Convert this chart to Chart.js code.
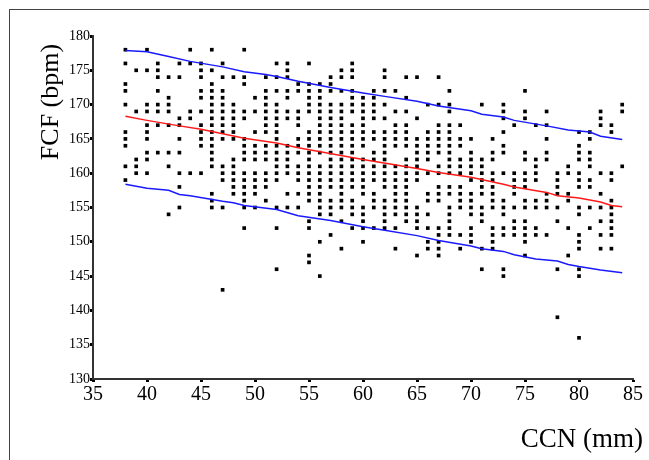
<!DOCTYPE html>
<html>
<head>
<meta charset="utf-8">
<title>FCF vs CCN</title>
<script src="https://cdn.jsdelivr.net/npm/chart.js@4.4.1/dist/chart.umd.min.js"></script>
<style>
  html, body { margin: 0; padding: 0; background: #fff; }
  #wrap { position: relative; width: 649px; height: 460px; overflow: hidden; }
  #frame {
    position: absolute; left: 9px; top: 9px; width: 700px; height: 500px;
    border-top: 1px solid #444; border-left: 1px solid #444;
  }
  #chart { position: absolute; left: 0; top: 0; }
</style>
</head>
<body>
<div id="wrap">
  <div id="frame"></div>
  <canvas id="chart" width="649" height="460"></canvas>
</div>
<script>
// --------- Data ---------
// Each entry: [CCN (mm), list of FCF (bpm) values observed at that CCN]
const colsA = [
  [38, [178, 176, 173, 172, 170, 166, 165, 164, 161, 159]],
  [39, [175, 169, 162, 161, 160]],
  [40, [178, 175, 170, 169, 167, 166, 165, 163, 162, 160]],
  [41, [176, 175, 174, 172, 170, 169, 167, 163]],
  [42, [174, 171, 170, 169, 167, 163, 161, 154]],
  [43, [176, 174, 168, 167, 165, 163, 160, 158, 155]],
  [44, [178, 176, 169, 168, 160]]
];
const colsB = [
  [45, [176, 175, 174, 172, 171, 169, 167, 166, 165, 164, 160]],
  [46, [178, 175, 173, 172, 171, 170, 169, 168, 167, 166, 165, 164, 163, 162, 161, 157, 156, 155]],
  [47, [176, 174, 172, 171, 170, 169, 168, 167, 166, 165, 161, 160, 159, 155, 143]],
  [48, [174, 170, 169, 168, 167, 166, 165, 162, 161, 160, 159, 158, 157]],
  [49, [178, 174, 173, 169, 168, 165, 164, 163, 162, 160, 159, 158, 157, 156, 155, 152]],
  [50, [171, 169, 166, 164, 163, 162, 160, 159, 158, 157, 155]],
  [51, [174, 172, 171, 170, 169, 168, 167, 166, 164, 163, 162, 160, 159, 158, 156]],
  [52, [176, 174, 172, 170, 169, 168, 167, 166, 165, 164, 163, 162, 161, 160, 159, 155, 152, 146]],
  [53, [176, 175, 174, 172, 171, 169, 168, 164, 163, 162, 161, 160, 157, 155]],
  [54, [173, 172, 169, 168, 167, 165, 164, 163, 161, 160, 159, 157, 155]]
];
const colsC = [
  [55, [176, 173, 172, 171, 170, 169, 166, 165, 164, 163, 162, 161, 160, 159, 158, 157, 156, 153, 152, 148, 147]],
  [56, [173, 172, 171, 170, 169, 168, 167, 166, 165, 164, 163, 161, 160, 159, 158, 157, 156, 155, 154, 150, 145]],
  [57, [174, 173, 172, 170, 169, 168, 167, 166, 165, 164, 163, 162, 161, 160, 159, 158, 156, 155, 154, 151]],
  [58, [175, 174, 172, 170, 169, 168, 167, 166, 165, 164, 163, 162, 161, 160, 159, 158, 157, 156, 155, 153, 149]],
  [59, [176, 175, 174, 172, 171, 170, 169, 167, 166, 165, 164, 163, 162, 161, 160, 159, 158, 156, 155, 154, 152]],
  [60, [171, 170, 169, 168, 167, 166, 165, 164, 162, 161, 160, 159, 158, 157, 155, 154, 153, 152, 150]],
  [61, [172, 171, 170, 169, 168, 166, 165, 163, 162, 161, 160, 159, 157, 156, 155, 152]],
  [62, [175, 174, 172, 170, 168, 166, 165, 164, 163, 162, 161, 160, 159, 158, 156, 155, 154, 153, 152]],
  [63, [172, 169, 167, 166, 165, 164, 161, 160, 159, 158, 157, 156, 155, 154, 152, 149]],
  [64, [174, 171, 169, 167, 166, 165, 164, 162, 161, 160, 159, 158, 157, 156, 155, 154, 153]]
];
const colsD = [
  [65, [174, 168, 165, 164, 163, 162, 161, 160, 159, 155, 154, 153, 152, 148]],
  [66, [170, 166, 165, 164, 163, 162, 160, 157, 156, 154, 152, 150, 149]],
  [67, [174, 170, 167, 166, 165, 164, 163, 161, 160, 158, 157, 156, 152, 151, 150, 149, 148]],
  [68, [172, 170, 169, 167, 166, 165, 164, 163, 162, 161, 160, 158, 157, 155, 154, 153, 152, 151]],
  [69, [167, 165, 164, 162, 161, 160, 158, 157, 156, 155, 151, 149]],
  [70, [165, 163, 162, 161, 160, 159, 157, 156, 155, 154, 152, 151, 150]],
  [71, [170, 162, 161, 160, 159, 158, 157, 155, 154, 153, 149, 146]],
  [72, [165, 163, 162, 160, 159, 158, 157, 156, 155, 152, 151, 150, 149]],
  [73, [170, 169, 168, 166, 164, 163, 160, 156, 155, 154, 152, 151, 146, 145]],
  [74, [167, 160, 159, 158, 157, 155, 153, 152, 151]]
];
const colsE = [
  [75, [172, 169, 168, 163, 162, 160, 159, 158, 156, 155, 153, 152, 151, 150, 148]],
  [76, [167, 162, 161, 160, 159, 156, 155, 152, 151]],
  [77, [169, 167, 165, 163, 162, 157, 156, 155, 151]],
  [78, [160, 159, 158, 157, 155, 153, 146, 139]],
  [79, [161, 160, 157, 156, 152, 148]],
  [80, [166, 164, 163, 162, 160, 159, 158, 155, 154, 151, 150, 149, 146, 145, 136]],
  [81, [166, 165, 163, 162, 161, 159, 158, 155, 152]],
  [82, [169, 168, 167, 160, 157, 155, 153, 151, 149]],
  [83, [167, 166, 160, 159, 156, 155, 154, 153, 152, 151, 149]],
  [84, [170, 169, 161]]
];

// Fitted curve (red) and its upper / lower bands (blue)
const fitX   = [38, 40, 43, 45, 49, 52, 54, 60, 65, 67, 70, 73, 74, 77, 78, 80, 82, 83, 84];
const fitY   = [168.3, 167.7, 166.9, 166.4, 165.1, 164.4, 163.7, 162.0, 160.7, 160.1, 159.4, 158.4, 158.0, 157.2, 156.7, 156.4, 155.8, 155.3, 155.1];
const upperX = [38, 40, 42, 44, 47, 49, 51, 52, 54, 57, 60, 62, 65, 67, 70, 71, 73, 74, 77, 79, 81, 82, 84];
const upperY = [177.9, 177.7, 177.0, 176.3, 175.5, 174.8, 174.4, 174.1, 173.4, 172.5, 171.7, 171.2, 170.5, 169.8, 169.1, 168.6, 168.2, 167.7, 166.9, 166.3, 166.0, 165.4, 164.9];
const lowerX = [38, 40, 42, 43, 44, 47, 48, 49, 52, 54, 57, 60, 62, 65, 67, 70, 71, 73, 74, 76, 78, 79, 80, 82, 84];
const lowerY = [158.4, 157.8, 157.5, 156.9, 156.7, 155.9, 155.7, 155.3, 154.7, 153.8, 153.1, 152.2, 151.7, 150.9, 150.2, 149.4, 149.0, 148.6, 148.1, 147.5, 147.2, 146.7, 146.4, 145.9, 145.5];

// Axis labels
const xTitle = "CCN (mm)";
const yTitle = "FCF (bpm)";

// --------- Helpers ---------
function toPoints(cols) {
  const pts = [];
  cols.forEach(([x, ys]) => ys.forEach((y) => pts.push({ x, y })));
  return pts;
}

function zipXY(xs, ys) {
  return xs.map((x, i) => ({ x, y: ys[i] }));
}

const scatterPoints = [colsA, colsB, colsC, colsD, colsE].flatMap(toPoints);

function lineSet(data, color) {
  return {
    data,
    showLine: true,
    borderColor: color,
    borderWidth: 1.5,
    pointRadius: 0,
    tension: 0,
    fill: false,
    order: 0
  };
}

// Axis titles drawn by hand so they sit where the reference puts them
const titlePlugin = {
  id: "axisTitles",
  afterDraw(chart) {
    const ctx = chart.ctx;
    ctx.save();
    ctx.fillStyle = "#000";
    ctx.font = '26px "Liberation Serif", "Times New Roman", serif';
    ctx.translate(51, 102);
    ctx.rotate(-Math.PI / 2);
    ctx.textAlign = "center";
    ctx.textBaseline = "middle";
    ctx.fillText(yTitle, 0, 0);
    ctx.restore();

    ctx.save();
    ctx.fillStyle = "#000";
    ctx.font = '27px "Liberation Serif", "Times New Roman", serif';
    ctx.textAlign = "right";
    ctx.textBaseline = "alphabetic";
    ctx.fillText(xTitle, 643, 447);
    ctx.restore();
  }
};

// --------- Chart ---------
new Chart(document.getElementById("chart"), {
  type: "scatter",
  data: {
    datasets: [
      lineSet(zipXY(upperX, upperY), "#1a1aff"),
      lineSet(zipXY(lowerX, lowerY), "#1a1aff"),
      lineSet(zipXY(fitX, fitY), "#ff1a1a"),
      {
        data: scatterPoints,
        pointStyle: "rect",
        pointRadius: 2.6,
        pointBorderWidth: 0,
        backgroundColor: "#000",
        borderColor: "#000",
        order: 1
      }
    ]
  },
  options: {
    responsive: false,
    animation: false,
    events: [],
    layout: { padding: { left: 0, right: 16, top: 36, bottom: 0 } },
    plugins: {
      legend: { display: false },
      tooltip: { enabled: false }
    },
    scales: {
      x: {
        type: "linear",
        min: 35,
        max: 85,
        ticks: {
          stepSize: 5,
          color: "#000",
          padding: 1,
          maxRotation: 0,
          font: { family: '"Liberation Serif", "Times New Roman", serif', size: 20 }
        },
        grid: {
          drawOnChartArea: false,
          tickLength: 3,
          tickWidth: 3,
          tickColor: "#000"
        },
        border: { color: "#333", width: 2 },
        afterFit(s) {
          s.height = 81;
          s.paddingLeft = 0;
          s.paddingRight = 0;
        }
      },
      y: {
        type: "linear",
        min: 130,
        max: 180,
        ticks: {
          stepSize: 5,
          color: "#000",
          padding: 0,
          font: { family: '"Liberation Serif", "Times New Roman", serif', size: 14 }
        },
        grid: {
          drawOnChartArea: false,
          tickLength: 3,
          tickWidth: 3,
          tickColor: "#000"
        },
        border: { color: "#333", width: 2 },
        afterFit(s) {
          s.width = 93;
          s.paddingTop = 0;
          s.paddingBottom = 0;
        }
      }
    }
  },
  plugins: [titlePlugin]
});
</script>
</body>
</html>
